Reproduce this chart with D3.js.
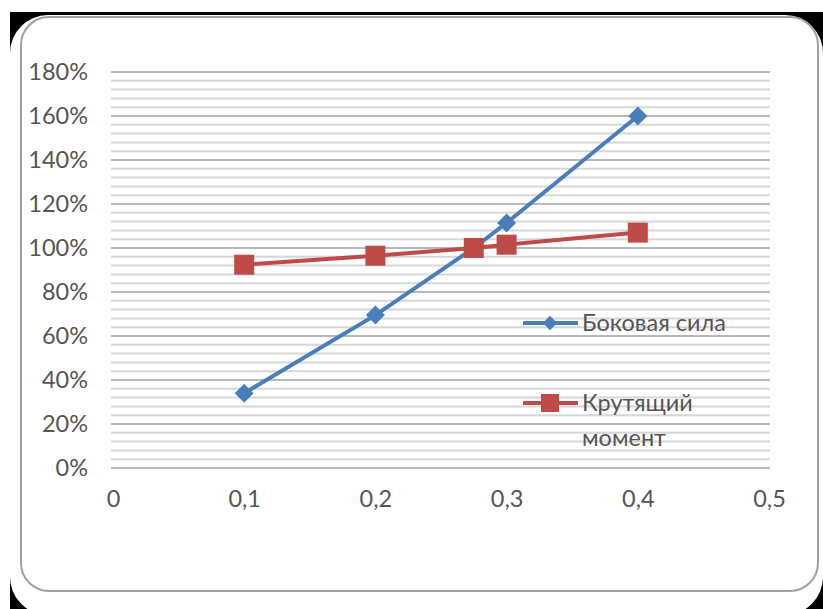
<!DOCTYPE html>
<html><head><meta charset="utf-8">
<script src="https://cdn.jsdelivr.net/npm/d3@7"></script>
<style>html,body{margin:0;padding:0;background:#fff;}svg{display:block;}</style>
</head><body>
<svg id="c" width="823" height="609"></svg>
<script>
const xTicks = [0, 0.1, 0.2, 0.3, 0.4, 0.5];
const xTickLabels = ["0", "0,1", "0,2", "0,3", "0,4", "0,5"];
const yTicks = [0, 20, 40, 60, 80, 100, 120, 140, 160, 180];
const yTickLabels = ["0%", "20%", "40%", "60%", "80%", "100%", "120%", "140%", "160%", "180%"];
const seriesNames = ["Боковая сила", "Крутящий момент"];
const xValues = [0.1, 0.2, 0.275, 0.3, 0.4];
const lateralForce = [34, 69.5, 100, 111.4, 160];
const torque = [92.4, 96.5, 100, 101.5, 107];

const svg = d3.select("#c");
const font = "Lato, 'Open Sans', sans-serif";
const fs = 23.5;

// frame
svg.append("rect").attr("x",10).attr("y",12).attr("width",813).attr("height",597).attr("fill","#000");
svg.append("rect").attr("x",10).attr("y",15).attr("width",813).attr("height",600).attr("rx",38).attr("fill","#fff");
svg.append("rect").attr("x",21).attr("y",17).attr("width",797).attr("height",574).attr("rx",28)
  .attr("fill","#fff").attr("stroke","#a0a0a0").attr("stroke-width",2);

const x = d3.scaleLinear().domain([0,0.5]).range([113,769]);
const y = d3.scaleLinear().domain([0,180]).range([468,72]);

// gridlines (minor every 4%)
const minor = d3.range(0, 181, 4);
svg.append("g").selectAll("line").data(minor).join("line")
  .attr("x1",111).attr("x2",770)
  .attr("y1",d=>y(d)).attr("y2",d=>y(d))
  .attr("stroke",d=>d%20===0?"#b8b8b8":"#d6d6d6").attr("stroke-width",2);

// y axis labels
const yAxis = d3.axisLeft(y).tickValues(yTicks).tickSize(0).tickPadding(0)
  .tickFormat((d,i)=>yTickLabels[i]);
const gy = svg.append("g").attr("transform","translate(88,0)").call(yAxis);
gy.select(".domain").remove();
gy.selectAll("text").attr("font-family",font).attr("font-size",fs).attr("fill","#555");

// x axis labels
const xAxis = d3.axisBottom(x).tickValues(xTicks).tickSize(0).tickPadding(0)
  .tickFormat((d,i)=>xTickLabels[i]);
const gx = svg.append("g").attr("transform","translate(0,490)").call(xAxis);
gx.select(".domain").remove();
gx.selectAll("text").attr("font-family",font).attr("font-size",fs).attr("fill","#555");

const blue = "#4a7ebb", red = "#be4b48";
const line = d3.line().x(d=>x(d[0])).y(d=>y(d[1]));
const blueData = xValues.map((v,i)=>[v, lateralForce[i]]);
const redData = xValues.map((v,i)=>[v, torque[i]]);

svg.append("path").datum(blueData).attr("d",line).attr("fill","none").attr("stroke",blue).attr("stroke-width",4);
svg.append("path").datum(redData).attr("d",line).attr("fill","none").attr("stroke",red).attr("stroke-width",4);

const diamond = d3.symbol().type(d3.symbolDiamond2).size(230);
svg.append("g").selectAll("path").data(blueData).join("path")
  .attr("d",diamond).attr("transform",d=>`translate(${x(d[0])},${y(d[1])})`).attr("fill",blue);
svg.append("g").selectAll("rect").data(redData).join("rect")
  .attr("x",d=>x(d[0])-10).attr("y",d=>y(d[1])-10).attr("width",20).attr("height",20).attr("fill",red);

// legend
const lg = svg.append("g");
lg.append("line").attr("x1",523).attr("x2",578).attr("y1",323).attr("y2",323).attr("stroke",blue).attr("stroke-width",4);
lg.append("path").attr("d",d3.symbol().type(d3.symbolDiamond2).size(130)).attr("transform","translate(550,323)").attr("fill",blue);
lg.append("text").attr("x",582).attr("y",323).attr("dy","0.35em").text(seriesNames[0])
  .attr("font-family",font).attr("font-size",fs).attr("fill","#555");
lg.append("line").attr("x1",523).attr("x2",578).attr("y1",403).attr("y2",403).attr("stroke",red).attr("stroke-width",4);
lg.append("rect").attr("x",541).attr("y",394).attr("width",18).attr("height",18).attr("fill",red);
const words = seriesNames[1].split(" ");
lg.append("text").attr("x",582).attr("y",403).attr("dy","0.35em").text(words[0])
  .attr("font-family",font).attr("font-size",fs).attr("fill","#555");
lg.append("text").attr("x",582).attr("y",438).attr("dy","0.35em").text(words[1])
  .attr("font-family",font).attr("font-size",fs).attr("fill","#555");
</script>
</body></html>
